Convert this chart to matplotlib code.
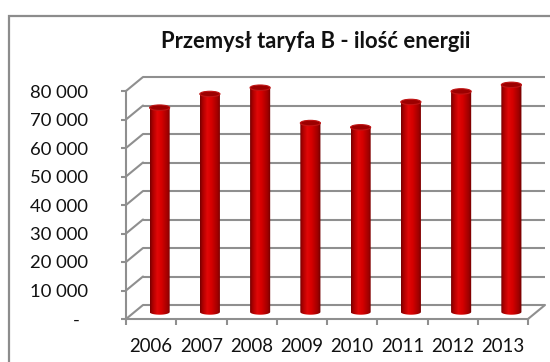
import numpy as np
import matplotlib
matplotlib.use("Agg")
import matplotlib.pyplot as plt
from matplotlib.transforms import ScaledTranslation
from matplotlib.patches import Ellipse, PathPatch, Rectangle, ConnectionPatch
from matplotlib.path import Path

plt.rcParams['font.family'] = ['Lato', 'DejaVu Sans']

# data
years = ["2006", "2007", "2008", "2009", "2010", "2011", "2012", "2013"]
energy = [71700, 76500, 78700, 66300, 64800, 73700, 77400, 79700]
yticks = [0, 10000, 20000, 30000, 40000, 50000, 60000, 70000, 80000]
title = "Przemysł taryfa B - ilość energii"

W, H, DPI = 550, 362, 100
fig = plt.figure(figsize=(W / DPI, H / DPI), dpi=DPI)
fig.patch.set_facecolor("white")
renderer = fig.canvas.get_renderer()


def fit_size(text, width_px, base=12.0, **kw):
    """Font size that makes `text` span `width_px` pixels."""
    t = fig.text(0, 0, text, fontsize=base, **kw)
    w = t.get_window_extent(renderer).width
    t.remove()
    return base * width_px / w


# outer chart frame
fig.patches.append(Rectangle((9 / W, -0.2), 1.2, 1 - 15.5 / H + 0.2,
                             transform=fig.transFigure, fill=False,
                             edgecolor="#8c8c8c", linewidth=1.6, zorder=0))

ax = fig.add_axes([126 / W, (H - 319) / H, 402 / W, 228 / H])
ax.set_facecolor("none")
n = len(years)

grid_col = "#8f8f8f"
px = 1 / DPI
back = ax.transData + ScaledTranslation(17 * px, 14 * px, fig.dpi_scale_trans)
mid = ax.transData + ScaledTranslation(8.5 * px, 7 * px, fig.dpi_scale_trans)

# back wall gridlines and side wall diagonals
for v in yticks:
    ax.plot([-0.5, n - 0.5], [v, v], color=grid_col, lw=1.5, transform=back,
            clip_on=False, zorder=1, solid_capstyle="butt")
    cp = ConnectionPatch(xyA=(-0.5, v), coordsA=ax.transData,
                         xyB=(-0.5, v), coordsB=back,
                         color=grid_col, lw=1.5, zorder=1)
    ax.add_artist(cp)
cp = ConnectionPatch(xyA=(n - 0.5, 0), coordsA=ax.transData,
                     xyB=(n - 0.5, 0), coordsB=back,
                     color=grid_col, lw=1.5, zorder=1)
ax.add_artist(cp)

# cylinders
bw = 0.4
eh = 1900
grad = np.linspace(0, 1, 256)
stops = [(0.0, (0.45, 0.0, 0.0)), (0.12, (0.66, 0.0, 0.0)),
         (0.35, (0.88, 0.03, 0.03)), (0.55, (0.84, 0.0, 0.0)),
         (0.85, (0.62, 0.0, 0.0)), (1.0, (0.42, 0.0, 0.0))]
rgb = np.zeros((1, 256, 3))
for c in range(3):
    rgb[0, :, c] = np.interp(grad, [s[0] for s in stops], [s[1][c] for s in stops])

bars = ax.bar(range(n), energy, width=bw, transform=mid, color="none",
              edgecolor="none", zorder=3, clip_on=False)
for bar, v in zip(bars, energy):
    x = bar.get_x() + bar.get_width() / 2
    t = np.linspace(np.pi, 2 * np.pi, 40)
    arc_x = x + bw / 2 * np.cos(t)
    arc_y = eh / 2 * np.sin(t)
    verts = [(x - bw / 2, v)] + list(zip(arc_x, arc_y)) + [(x + bw / 2, v), (x - bw / 2, v)]
    codes = [Path.MOVETO] + [Path.LINETO] * (len(verts) - 2) + [Path.CLOSEPOLY]
    body = PathPatch(Path(verts, codes), transform=mid, facecolor="none",
                     edgecolor="none", clip_on=False)
    ax.add_patch(body)
    im = ax.imshow(rgb, extent=[x - bw / 2, x + bw / 2, -eh, v], aspect="auto",
                   transform=mid, zorder=3, interpolation="bilinear")
    im.set_clip_box(fig.bbox)
    im.set_clip_path(body)
    top = Ellipse((x, v), bw, eh, transform=mid, facecolor="#9c0000",
                  edgecolor="#c01414", lw=0.8, zorder=4, clip_on=False)
    ax.add_patch(top)

ax.set_xlim(-0.5, n - 0.5)
ax.set_ylim(0, 80000)

# front axes
for s in ["top", "right"]:
    ax.spines[s].set_visible(False)
for s in ["left", "bottom"]:
    ax.spines[s].set_color(grid_col)
    ax.spines[s].set_linewidth(1.5)
    ax.spines[s].set_zorder(2)

ylabels = ["-"] + [f"{v:,}".replace(",", " ") for v in yticks[1:]]
ysize = fit_size(ylabels[-1], 58)
xsize = fit_size(years[0], 43)

ax.set_yticks(yticks)
ax.set_yticklabels(ylabels)
ax.tick_params(axis="y", length=3.5, width=1.5, color=grid_col, pad=24,
               labelsize=ysize, labelcolor="#111111")
lbl0 = ax.get_yticklabels()[0]
lbl0.set_transform(lbl0.get_transform() + ScaledTranslation(-8 * px, 0, fig.dpi_scale_trans))

ax.set_xticks(np.arange(n))
ax.set_xticklabels(years)
ax.set_xticks(np.arange(n + 1) - 0.5, minor=True)
ax.tick_params(axis="x", which="major", length=0, pad=14, labelsize=xsize,
               labelcolor="#111111")
ax.tick_params(axis="x", which="minor", length=4.5, width=1.5, color=grid_col)

tsize = fit_size(title, 307, fontweight="bold")
fig.text(316 / W, 1 - 41 / H, title, ha="center", va="center",
         fontsize=tsize, fontweight="bold", color="#111111")

fig.savefig("out.png", dpi=DPI)
